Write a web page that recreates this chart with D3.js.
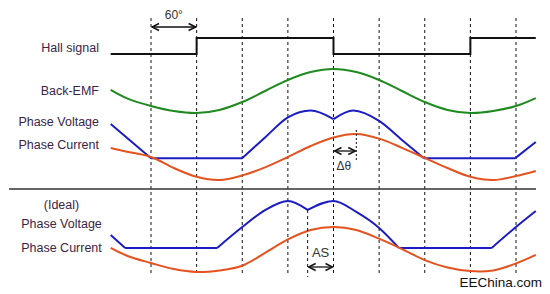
<!DOCTYPE html>
<meta charset="utf-8">
<style>
  body { margin: 0; background: #fff; }
  svg { display: block; font-family: "Liberation Sans", Arial, sans-serif; }
  .label { font-size: 12.5px; fill: #3a2448; }
  .note { font-size: 12px; fill: #333; }
</style>
<body>
<script src="https://d3js.org/d3.v7.min.js"></script>
<script>
// electrical angle (deg) of the dashed reference lines
var gridAngles = [0, 60, 120, 180, 240, 300, 360, 420, 480];

// hall signal, 0 = low, 1 = high
var hallTheta = [-53, 60, 60, 240, 240, 420, 420, 506];
var hallLevel = [0, 0, 1, 1, 0, 0, 1, 1];

// sampled angles for the smooth waves
var waveTheta = [-53, -30, 0, 30, 60, 90, 120, 150, 180, 210, 240, 270, 300, 330, 360, 390, 420, 450, 480, 506];
var emfValue = [0.05, -0.36, -0.68, -0.91, -1, -0.86, -0.5, 0, 0.5, 0.86, 1, 0.86, 0.5, 0, -0.5, -0.86, -1, -0.91, -0.68, -0.32];
var currentTopValue = [0.39, 0.22, 0, -0.48, -0.86, -1, -0.8, -0.45, 0, 0.48, 0.85, 1, 0.8, 0.4, -0.04, -0.48, -0.86, -1, -0.83, -0.61];
var currentIdealValue = [0.07, -0.3, -0.6, -0.87, -1, -0.93, -0.72, -0.15, 0.45, 0.87, 1, 0.87, 0.48, 0.02, -0.47, -0.8, -0.96, -0.93, -0.62, -0.24];

// phase voltage, pieces joined at sharp corners: [angle, value]
var voltageTop = [
  [[-53, 1.43], [0, -0.05]],
  [[0, -0.05], [120, -0.05]],
  [[120, -0.05], [150, 0.85], [180, 1.72], [210, 2.02], [240, 1.65]],
  [[240, 1.65], [266, 2.02], [300, 1.57], [330, 0.74], [359, -0.05]],
  [[359, -0.05], [479, -0.05]],
  [[479, -0.05], [506, 0.65]]
];
var voltageIdeal = [
  [[-53, 0.64], [-34, 0.07]],
  [[-34, 0.07], [87, 0.07]],
  [[87, 0.07], [120, 1.0], [150, 1.75], [180, 2.16], [206, 1.76]],
  [[206, 1.76], [240, 2.16], [270, 1.67], [300, 0.96], [326, 0.07]],
  [[326, 0.07], [448, 0.07]],
  [[448, 0.07], [480, 1.0], [506, 1.71]]
];

var spans = [
  { from: 0, to: 60, text: "60°" },
  { from: 240, to: 270, text: "Δθ" },
  { from: 206, to: 240, text: "AS" }
];

var width = 550, height = 294;

var x = d3.scaleLinear().domain([0, 480]).range([151, 516]);
var hallY = d3.scaleLinear().domain([0, 1]).range([54, 38]);
var emfY = d3.scaleLinear().domain([-1, 1]).range([113, 69]);
var topY = d3.scaleLinear().domain([-1, 1]).range([180, 134]);
var idealY = d3.scaleLinear().domain([-1, 1]).range([272, 227]);

var svg = d3.select("body").append("svg")
  .attr("width", width)
  .attr("height", height);

var defs = svg.append("defs");
defs.append("marker")
  .attr("id", "head")
  .attr("viewBox", "-9 -5 10 10")
  .attr("refX", 0).attr("refY", 0)
  .attr("markerWidth", 10).attr("markerHeight", 10)
  .attr("markerUnits", "userSpaceOnUse")
  .attr("orient", "auto-start-reverse")
  .append("path")
  .attr("d", "M-7,-3.5L0,0L-7,3.5")
  .attr("fill", "none")
  .attr("stroke", "#111")
  .attr("stroke-width", 1.5);

// dashed reference lines
svg.selectAll(".grid")
  .data(gridAngles)
  .enter().append("line")
  .attr("class", "grid")
  .attr("x1", d => x(d)).attr("x2", d => x(d))
  .attr("y1", 18).attr("y2", 276)
  .attr("stroke", "#111")
  .attr("stroke-width", 1)
  .attr("stroke-dasharray", "3,3");

// divider between real and ideal
svg.append("line")
  .attr("x1", 9).attr("x2", 536)
  .attr("y1", 189).attr("y2", 189)
  .attr("stroke", "#333")
  .attr("stroke-width", 1.5);

// hall signal
svg.append("path")
  .datum(d3.zip(hallTheta, hallLevel))
  .attr("fill", "none")
  .attr("stroke", "#111")
  .attr("stroke-width", 2)
  .attr("d", d3.line().x(d => x(d[0])).y(d => hallY(d[1])));

function wave(values, yScale, color) {
  svg.append("path")
    .datum(d3.zip(waveTheta, values))
    .attr("fill", "none")
    .attr("stroke", color)
    .attr("stroke-width", 2)
    .attr("d", d3.line().curve(d3.curveCatmullRom.alpha(0.5)).x(d => x(d[0])).y(d => yScale(d[1])));
}

function pieces(segs, yScale, color) {
  var line = d3.line().curve(d3.curveMonotoneX).x(d => x(d[0])).y(d => yScale(d[1]));
  svg.append("path")
    .attr("fill", "none")
    .attr("stroke", color)
    .attr("stroke-width", 2)
    .attr("stroke-linejoin", "round")
    .attr("d", segs.map(s => line(s)).join(""));
}

wave(emfValue, emfY, "#1f8a1f");
pieces(voltageTop, topY, "#1c1cc4");
wave(currentTopValue, topY, "#e4521f");
pieces(voltageIdeal, idealY, "#1c1cc4");
wave(currentIdealValue, idealY, "#e4521f");

// extra marker lines for delta-theta and AS
svg.append("line")
  .attr("x1", x(spans[1].to)).attr("x2", x(spans[1].to))
  .attr("y1", topY(1) - 4).attr("y2", 160)
  .attr("stroke", "#111").attr("stroke-width", 1).attr("stroke-dasharray", "2,2");
svg.append("line")
  .attr("x1", x(spans[2].from)).attr("x2", x(spans[2].from))
  .attr("y1", 210).attr("y2", 277)
  .attr("stroke", "#111").attr("stroke-width", 1).attr("stroke-dasharray", "3,3");

// span arrows and their text
var spanY = [27, 151, 267];
var textPos = [{ y: 19 }, { y: 170 }, { y: 257 }];
spans.forEach(function (s, i) {
  svg.append("line")
    .attr("x1", x(s.from) + 1).attr("x2", x(s.to) - 1)
    .attr("y1", spanY[i]).attr("y2", spanY[i])
    .attr("stroke", "#111").attr("stroke-width", 1.3)
    .attr("marker-start", "url(#head)")
    .attr("marker-end", "url(#head)");
  svg.append("text")
    .attr("class", "note")
    .attr("x", (x(s.from) + x(s.to)) / 2 + (i === 1 ? -1 : 0))
    .attr("y", textPos[i].y)
    .attr("text-anchor", "middle")
    .style("font-size", i === 2 ? "13px" : "12px")
    .text(s.text);
});

// row labels
var topLabels = [
  { text: "Hall signal", y: 52 },
  { text: "Back-EMF", y: 95 },
  { text: "Phase Voltage", y: 126 },
  { text: "Phase Current", y: 149 }
];
svg.selectAll(".toplab")
  .data(topLabels)
  .enter().append("text")
  .attr("class", "label")
  .attr("x", 99)
  .attr("y", d => d.y)
  .attr("text-anchor", "end")
  .text(d => d.text);

var idealLabels = [
  { text: "(Ideal)", y: 209 },
  { text: "Phase Voltage", y: 228 },
  { text: "Phase Current", y: 252 }
];
svg.selectAll(".idlab")
  .data(idealLabels)
  .enter().append("text")
  .attr("class", "label")
  .attr("x", 61.5)
  .attr("y", d => d.y)
  .attr("text-anchor", "middle")
  .text(d => d.text);

svg.append("text")
  .attr("x", 542)
  .attr("y", 287)
  .attr("text-anchor", "end")
  .style("font-size", "13.5px")
  .style("fill", "#111")
  .text("EEChina.com");
</script>
</body>
